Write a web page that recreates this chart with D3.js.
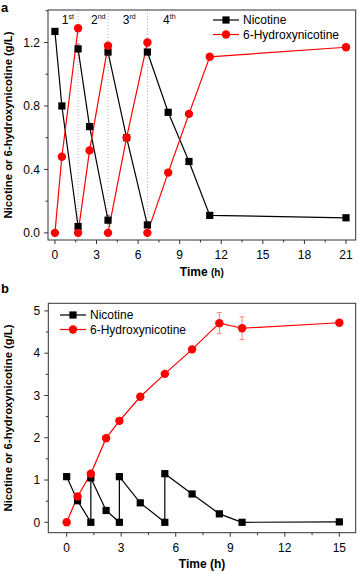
<!DOCTYPE html>
<html>
<head>
<meta charset="utf-8">
<script src="https://cdn.jsdelivr.net/npm/d3@7"></script>
<style>
  body { margin: 0; background: #fff; }
  svg { display: block; font-family: "Liberation Sans", Arial, sans-serif; }
</style>
</head>
<body>
<svg width="359" height="572"></svg>
<script>
// ---- panel a: fed-batch cycles (each cycle drawn as its own segment) ----
const aNicTime = [[0, 0.5, 1.67], [1.67, 2.5, 3.83], [3.83, 5.17, 6.67], [6.67, 8.17, 9.67, 11.17, 21]];
const aNicVal  = [[1.27, 0.80, 0.04], [1.16, 0.67, 0.08], [1.14, 0.60, 0.05], [1.14, 0.76, 0.45, 0.11, 0.095]];
const aHydTime = [[0, 0.5, 1.67], [1.67, 2.5, 3.83], [3.83, 5.17, 6.67], [6.67, 8.17, 9.67, 11.17, 21]];
const aHydVal  = [[0, 0.48, 1.29], [0, 0.52, 1.18], [0, 0.60, 1.20], [0, 0.38, 0.75, 1.11, 1.17]];
const aCycleAt = [1.67, 3.83, 6.67];
const aCycleLabels = [["1", "st", 0.5], ["2", "nd", 2.6], ["3", "rd", 4.9], ["4", "th", 7.8]];
const aXTicks = [0, 3, 6, 9, 12, 15, 18, 21];
const aYTicks = [0.0, 0.4, 0.8, 1.2];

// ---- panel b: continuous series ----
const bTime   = [0, 0.6, 1.33, 1.33, 2.17, 2.9, 2.9, 4.05, 5.4, 5.4, 6.9, 8.4, 9.65, 15];
const bNicVal = [1.08, 0.51, 0.0, 1.05, 0.28, 0.0, 1.08, 0.46, 0.0, 1.15, 0.67, 0.2, 0.0, 0.01];
const bHydTime = [0, 0.6, 1.33, 2.17, 2.9, 4.05, 5.4, 6.9, 8.4, 9.65, 15];
const bHydVal  = [0, 0.61, 1.15, 1.99, 2.40, 2.97, 3.51, 4.09, 4.71, 4.59, 4.72];
const bHydErr  = [0, 0, 0, 0, 0, 0, 0, 0, 0.25, 0.27, 0];
const bXTicks = [0, 3, 6, 9, 12, 15];
const bYTicks = [0, 1, 2, 3, 4, 5];

const svg = d3.select("svg");
const RED = "#ff0000";

function drawFrame(g, x, y, xTicks, yTicks, yFmt, xStep, yStep) {
  const [x0, x1] = x.range(), [y0, y1] = y.range();
  g.append("rect").attr("x", x0).attr("y", y1).attr("width", x1 - x0).attr("height", y0 - y1)
    .attr("fill", "none").attr("stroke", "#333").attr("stroke-width", 1);

  // major + minor ticks, outward on bottom and left
  const xd = x.domain(), yd = y.domain();
  const xMinor = d3.range(Math.ceil(xd[0] / (xStep / 2)) * xStep / 2, xd[1], xStep / 2);
  const yMinor = d3.range(Math.ceil(yd[0] / (yStep / 2)) * yStep / 2, yd[1], yStep / 2);
  g.selectAll(".xt").data(xMinor).join("line")
    .attr("x1", d => x(d)).attr("x2", d => x(d)).attr("y1", y0)
    .attr("y2", d => y0 + (xTicks.some(t => Math.abs(t - d) < 1e-6) ? 4 : 2.5))
    .attr("stroke", "#333");
  g.selectAll(".yt").data(yMinor).join("line")
    .attr("y1", d => y(d)).attr("y2", d => y(d)).attr("x1", x0)
    .attr("x2", d => x0 - (yTicks.some(t => Math.abs(t - d) < 1e-6) ? 4 : 2.5))
    .attr("stroke", "#333");

  g.selectAll(".xl").data(xTicks).join("text")
    .attr("x", d => x(d)).attr("y", y0 + 19).attr("text-anchor", "middle")
    .attr("font-size", 12).text(d => d);
  g.selectAll(".yl").data(yTicks).join("text")
    .attr("x", x0 - 8).attr("y", d => y(d) + 4.3).attr("text-anchor", "end")
    .attr("font-size", 12).text(yFmt);
}

function marks(g, pts, kind, color) {
  if (kind === "square") {
    g.selectAll(null).data(pts).join("rect")
      .attr("x", d => d[0] - 3.6).attr("y", d => d[1] - 3.6)
      .attr("width", 7.2).attr("height", 7.2).attr("fill", color);
  } else {
    g.selectAll(null).data(pts).join("circle")
      .attr("cx", d => d[0]).attr("cy", d => d[1]).attr("r", 4.2).attr("fill", color);
  }
}

function legend(g, lx, ly) {
  const items = [["Nicotine", "#000", "square"], ["6-Hydroxynicotine", RED, "circle"]];
  items.forEach(([name, c, kind], i) => {
    const yy = ly + i * 14.5;
    g.append("line").attr("x1", lx).attr("x2", lx + 26).attr("y1", yy).attr("y2", yy)
      .attr("stroke", c).attr("stroke-width", 1.2);
    marks(g, [[lx + 13, yy]], kind, c);
    g.append("text").attr("x", lx + 30).attr("y", yy + 4.3).attr("font-size", 12).text(name);
  });
}

function yTitle(g, cy) {
  g.append("text").attr("transform", `translate(12,${cy}) rotate(-90)`)
    .attr("text-anchor", "middle").attr("font-size", 11.3).attr("font-weight", "bold")
    .text("Nicotine or 6-hydroxynicotine (g/L)");
}

const line = d3.line();

// ================= panel a =================
{
  const x = d3.scaleLinear().domain([-0.5, 21.7]).range([48, 355.7]);
  const y = d3.scaleLinear().domain([-0.045, 1.405]).range([240, 10]);
  const g = svg.append("g");

  g.append("text").attr("x", 1).attr("y", 11.5).attr("font-size", 13).attr("font-weight", "bold").text("a");

  g.selectAll(".cyc").data(aCycleAt).join("line")
    .attr("x1", d => x(d)).attr("x2", d => x(d)).attr("y1", y.range()[1]).attr("y2", y.range()[0])
    .attr("stroke", "#999").attr("stroke-width", 0.8).attr("stroke-dasharray", "1,2");

  aCycleLabels.forEach(([n, sup, t]) => {
    const tx = g.append("text").attr("x", x(t)).attr("y", 24).attr("font-size", 12);
    tx.append("tspan").text(n);
    tx.append("tspan").attr("font-size", 7).attr("dy", -5).text(sup);
  });

  drawFrame(g, x, y, aXTicks, aYTicks, d3.format(".1f"), 3, 0.4);

  // small error bars on two nicotine points
  [[1.67, 1.16, 0.03], [3.83, 0.08, 0.03]].forEach(([t, v, e]) => {
    g.append("line").attr("x1", x(t)).attr("x2", x(t)).attr("y1", y(v - e)).attr("y2", y(v + e)).attr("stroke", "#888");
    g.append("line").attr("x1", x(t) - 2).attr("x2", x(t) + 2).attr("y1", y(v + e)).attr("y2", y(v + e)).attr("stroke", "#888");
  });

  aNicTime.forEach((ts, i) => {
    const pts = ts.map((t, j) => [x(t), y(aNicVal[i][j])]);
    g.append("path").attr("d", line(pts)).attr("fill", "none").attr("stroke", "#000").attr("stroke-width", 1.2);
  });
  aHydTime.forEach((ts, i) => {
    const pts = ts.map((t, j) => [x(t), y(aHydVal[i][j])]);
    g.append("path").attr("d", line(pts)).attr("fill", "none").attr("stroke", RED).attr("stroke-width", 1.2);
  });
  aNicTime.forEach((ts, i) => marks(g, ts.map((t, j) => [x(t), y(aNicVal[i][j])]), "square", "#000"));
  aHydTime.forEach((ts, i) => marks(g, ts.map((t, j) => [x(t), y(aHydVal[i][j])]), "circle", RED));

  legend(g, 213, 20);
  yTitle(g, 125);

  const xt = g.append("text").attr("x", 201.8).attr("y", 276).attr("text-anchor", "middle")
    .attr("font-weight", "bold").attr("font-size", 12);
  xt.append("tspan").text("Time ");
  xt.append("tspan").attr("font-size", 10).text("(h)");
}

// ================= panel b =================
{
  const x = d3.scaleLinear().domain([-1.01, 15.9]).range([48.3, 355.7]);
  const y = d3.scaleLinear().domain([-0.246, 5.18]).range([532.7, 303.3]);
  const g = svg.append("g");

  g.append("text").attr("x", 1).attr("y", 293).attr("font-size", 13).attr("font-weight", "bold").text("b");

  drawFrame(g, x, y, bXTicks, bYTicks, d3.format("d"), 3, 1);

  // error bars
  const errPts = bHydTime.map((t, i) => [t, bHydVal[i], bHydErr[i]]).filter(d => d[2] > 0);
  errPts.forEach(([t, v, e]) => {
    g.append("line").attr("x1", x(t)).attr("x2", x(t)).attr("y1", y(v - e)).attr("y2", y(v + e)).attr("stroke", "#ff8080");
    [v - e, v + e].forEach(w => g.append("line").attr("x1", x(t) - 2.5).attr("x2", x(t) + 2.5)
      .attr("y1", y(w)).attr("y2", y(w)).attr("stroke", "#ff8080"));
  });

  const nicPts = bTime.map((t, i) => [x(t), y(bNicVal[i])]);
  const hydPts = bHydTime.map((t, i) => [x(t), y(bHydVal[i])]);
  g.append("path").attr("d", line(nicPts)).attr("fill", "none").attr("stroke", "#000").attr("stroke-width", 1.2);
  g.append("path").attr("d", line(hydPts)).attr("fill", "none").attr("stroke", RED).attr("stroke-width", 1.2);
  marks(g, nicPts, "square", "#000");
  marks(g, hydPts, "circle", RED);

  legend(g, 60, 315);
  yTitle(g, 418);

  g.append("text").attr("x", 202).attr("y", 568).attr("text-anchor", "middle")
    .attr("font-weight", "bold").attr("font-size", 12).text("Time (h)");
}
</script>
</body>
</html>
